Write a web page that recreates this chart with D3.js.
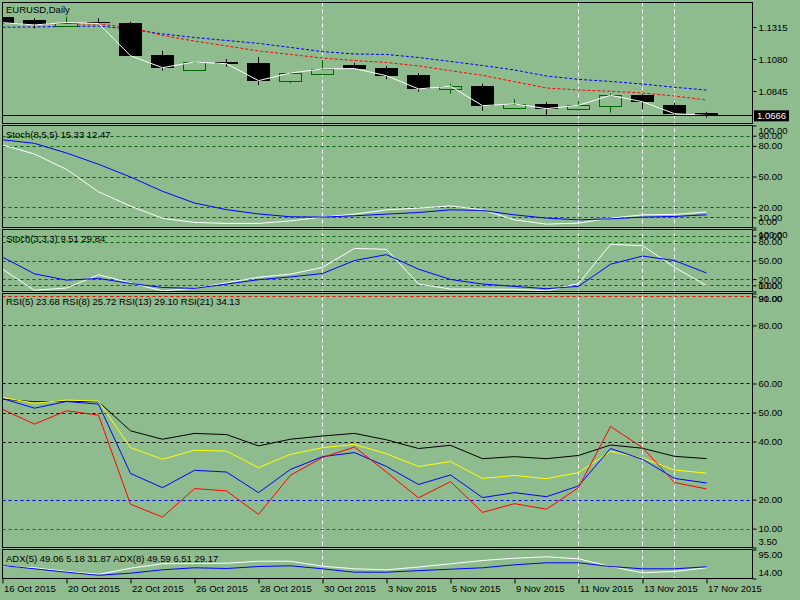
<!DOCTYPE html>
<html>
<head>
<meta charset="utf-8">
<script src="https://cdn.jsdelivr.net/npm/d3@7"></script>
<style>
  body { margin: 0; background: #8fbc8f; }
  text { font-family: "Liberation Sans", Arial, sans-serif; font-size: 9.5px; fill: #000; }
</style>
</head>
<body>
<svg id="chart" width="800" height="600"></svg>
<script>
// bars (daily)
var barDates = ["16 Oct 2015","19 Oct 2015","20 Oct 2015","21 Oct 2015","22 Oct 2015","23 Oct 2015",
  "26 Oct 2015","27 Oct 2015","28 Oct 2015","29 Oct 2015","30 Oct 2015","2 Nov 2015","3 Nov 2015",
  "4 Nov 2015","5 Nov 2015","6 Nov 2015","9 Nov 2015","10 Nov 2015","11 Nov 2015","12 Nov 2015",
  "13 Nov 2015","16 Nov 2015","17 Nov 2015"];
var xTickLabels = ["16 Oct 2015","20 Oct 2015","22 Oct 2015","26 Oct 2015","28 Oct 2015","30 Oct 2015",
  "3 Nov 2015","5 Nov 2015","9 Nov 2015","11 Nov 2015","13 Nov 2015","17 Nov 2015"];
var markerDates = ["30 Oct 2015","11 Nov 2015","13 Nov 2015","16 Nov 2015"];

var open  = [1.1391,1.1366,1.1325,1.1352,1.1344,1.1109,1.1001,1.1058,1.1053,1.0921,1.0972,1.1036,1.1012,1.0963,1.0862,1.0882,1.0722,1.0750,1.0715,1.0737,1.0816,1.0742,1.0683];
var high  = [1.1395,1.1379,1.1391,1.1379,1.1354,1.1141,1.1065,1.1080,1.1095,1.0985,1.1073,1.1053,1.1029,1.0975,1.0899,1.0899,1.0786,1.0764,1.0772,1.0828,1.0823,1.0759,1.0691];
var low   = [1.1345,1.1305,1.1325,1.1337,1.1102,1.0994,1.1001,1.1023,1.0889,1.0902,1.0972,1.1007,1.0931,1.0840,1.0825,1.0700,1.0713,1.0659,1.0700,1.0686,1.0708,1.0667,1.0649];
var close = [1.1347,1.1330,1.1348,1.1341,1.1104,1.1016,1.1058,1.1045,1.0921,1.0977,1.1007,1.1010,1.0957,1.0860,1.0880,1.0737,1.0750,1.0715,1.0740,1.0813,1.0766,1.0678,1.0666];
var maBlue = [1.1313,1.1315,1.1319,1.1322,1.1300,1.1264,1.1238,1.1216,1.1195,1.1165,1.1134,1.1117,1.1113,1.1091,1.1062,1.1032,1.0999,1.0955,1.0930,1.0915,1.0896,1.0872,1.0852];
var maRed  = [1.1342,1.1341,1.1337,1.1337,1.1311,1.1253,1.1212,1.1176,1.1139,1.1113,1.1087,1.1069,1.1054,1.1029,1.0994,1.0960,1.0913,1.0867,1.0852,1.0843,1.0830,1.0808,1.0779];
var priceTicks = [1.1315, 1.1080, 1.0845];
var bidPrice = 1.0666;

var stoch8Main   = [81,72,57,35,21,9,5,4,4,6.5,10.2,13.1,17.3,19,21.2,17.3,7.5,3.3,4.3,9.2,12.4,12.7,15.33];
var stoch8Signal = [86,82.5,73,62,49.5,35.5,24,17.5,13.3,10.5,10.2,11.5,13.1,14.7,17.3,16.7,12.4,9.2,7.5,8.5,10.2,10.8,12.47];
var stoch3Main   = [36,2,5.6,27,14,1,5,14,23,28,38.9,69.5,68,12,4,4,3.5,1,12.8,76,74,39,9.51];
var stoch3Signal = [55.5,28.5,18.3,21,13,6.5,5,12,19,23.5,29,50,59.5,36,19.4,12,8.3,4.5,8.3,44,57.2,50,29.84];
var stochLevels = [90, 80, 50, 20, 10];
var stochTicks = [100, 90, 80, 50, 20, 10, 0];

var rsi5  = [51.1,46,50.6,49.1,18.4,14,23.8,23,14.9,28.4,34.5,38.1,29.5,20.6,26.2,15.6,18.6,16.7,24.1,45.2,37.9,25.9,23.68];
var rsi8  = [54.8,51.5,53.8,52.9,29,24.1,30.1,29.5,22.4,30.4,34.8,36.2,31.4,25.2,28.5,20.7,22.4,21,24.7,37.6,33.9,27.3,25.72];
var rsi13 = [55.2,53.2,54.3,53.9,37.9,33.9,37,36.7,31,35.6,37.9,39,35.8,31.4,33.1,27.3,28.3,27.2,29.3,36.6,34.3,30.2,29.10];
var rsi21 = [54.6,53.7,53.9,53.7,43.7,40.8,42.8,42.4,38.5,40.8,41.9,42.8,40.6,37.6,38.7,34.1,34.8,34.1,35.2,38.8,37.7,34.9,34.13];
var rsiRedLevels = [90, 10];
var rsiBlueLevels = [80, 20];
var rsiBlackLevels = [60, 50, 40];
var rsiTicks = [91, 90, 80, 60, 50, 40, 20, 10, 3.5];

var adxWhite = [48.4,43.9,33.6,25.5,42.8,55.1,56,56.8,62.3,62.3,48.4,41.1,38.3,46,55.1,64.3,70.7,74.6,69,47.5,29.9,33.6,43.9];
var adxBlue  = [50.3,41.1,31.6,23,28.8,38.3,43.9,41.9,47.5,49.5,41.1,31.6,31.6,36,40,43.9,52.3,57.9,57.9,47.5,41.1,41.1,46.7];
var adxTicks = [95, 14];

var svg = d3.select("#chart");
var defs = svg.append("defs");
var left = 2.5, right = 752.5;
var x = d3.scaleLinear().domain([0, barDates.length - 1]).range([2.5, 2.5 + 32 * (barDates.length - 1)]);
var green = "#006400";

svg.append("rect").attr("width", 800).attr("height", 600).attr("fill", "#8fbc8f");

// vertical markers behind everything
svg.selectAll(".vmark").data(markerDates).enter().append("line")
  .attr("class", "vmark")
  .attr("x1", function (d) { return x(barDates.indexOf(d)); })
  .attr("x2", function (d) { return x(barDates.indexOf(d)); })
  .attr("y1", 2.5).attr("y2", 578.5)
  .attr("stroke", "#fff").attr("stroke-dasharray", "4,3");

function Panel(id, top, bottom, domain) {
  this.top = top;
  this.bottom = bottom;
  this.y = d3.scaleLinear().domain(domain).range([bottom, top]);
  defs.append("clipPath").attr("id", "clip_" + id)
    .append("rect").attr("x", left).attr("y", top).attr("width", right - left).attr("height", bottom - top);
  this.g = svg.append("g").attr("clip-path", "url(#clip_" + id + ")");
  var thisobj = this;

  this.Levels = function (vals, color) {
    thisobj.g.selectAll(null).data(vals).enter().append("line")
      .attr("x1", left).attr("x2", right)
      .attr("y1", function (d) { return Math.round(thisobj.y(d)) + 0.5; })
      .attr("y2", function (d) { return Math.round(thisobj.y(d)) + 0.5; })
      .attr("stroke", color).attr("stroke-dasharray", "3,3");
  };

  this.Series = function (vals, color, dash) {
    var line = d3.line().x(function (d, i) { return x(i); }).y(function (d) { return thisobj.y(d); });
    thisobj.g.append("path").datum(vals)
      .attr("d", line).attr("fill", "none")
      .attr("stroke", color).attr("stroke-width", 1)
      .attr("stroke-dasharray", dash || null);
  };

  this.Title = function (txt, base) {
    svg.append("text").attr("x", 6).attr("y", base).text(txt);
  };

  this.Axis = function (ticks, fmt) {
    var ax = svg.append("g").attr("transform", "translate(" + right + ",0)")
      .call(d3.axisRight(thisobj.y).tickValues(ticks).tickFormat(fmt).tickSize(4).tickPadding(2));
    ax.attr("font-family", null).attr("font-size", null);
    ax.select(".domain").remove();
    // keep the max / min labels inside the window like MT4 does
    ax.selectAll(".tick text").attr("y", function (d) {
      var yy = thisobj.y(d);
      if (yy < thisobj.top + 5) return thisobj.top + 5 - yy;
      if (yy > thisobj.bottom - 6) return thisobj.bottom - 6 - yy;
      return 0;
    });
  };

  this.Frame = function () {
    svg.append("rect").attr("x", left).attr("y", top)
      .attr("width", right - left).attr("height", bottom - top)
      .attr("fill", "none").attr("stroke", "#000");
  };
}

// ---- price window
var p1 = new Panel("price", 2.5, 123.5, [1.0606, 1.1495]);
p1.Series(maBlue, "#0000ff", "3,2");
p1.Series(maRed, "#ff0000", "3,2");

var idx = d3.range(barDates.length);
p1.g.selectAll(".wick").data(idx).enter().append("line")
  .attr("class", "wick")
  .attr("x1", function (i) { return x(i); }).attr("x2", function (i) { return x(i); })
  .attr("y1", function (i) { return p1.y(high[i]); }).attr("y2", function (i) { return p1.y(low[i]); })
  .attr("stroke", function (i) { return close[i] >= open[i] ? green : "#000"; });

p1.g.selectAll(".body").data(idx).enter().append("rect")
  .attr("class", "body")
  .each(function (i) {
    var up = close[i] >= open[i];
    var yt = Math.round(p1.y(Math.max(open[i], close[i])));
    var yb = Math.round(p1.y(Math.min(open[i], close[i])));
    var r = d3.select(this);
    if (up) {
      r.attr("x", x(i) - 11).attr("width", 22)
        .attr("y", yt + 0.5).attr("height", Math.max(1, yb - yt))
        .attr("fill", "#8fbc8f").attr("stroke", green);
    } else {
      r.attr("x", x(i) - 11.5).attr("width", 23)
        .attr("y", yt).attr("height", Math.max(1, yb - yt))
        .attr("fill", "#000");
    }
  });

p1.Series(close, "#fff");

p1.g.append("line").attr("x1", left).attr("x2", right)
  .attr("y1", Math.round(p1.y(bidPrice)) + 0.5).attr("y2", Math.round(p1.y(bidPrice)) + 0.5)
  .attr("stroke", "#000");
p1.Title("EURUSD,Daily", 12.5);
p1.Axis(priceTicks, d3.format(".4f"));
p1.Frame();
svg.append("rect").attr("x", 754).attr("y", p1.y(bidPrice) - 5).attr("width", 35).attr("height", 11).attr("fill", "#000");
svg.append("text").attr("x", 757).attr("y", p1.y(bidPrice) + 3.5).attr("fill", "#fff").style("fill", "#fff").text(d3.format(".4f")(bidPrice));

// ---- Stoch(8,5,5)
var p2 = new Panel("st8", 125.5, 227.5, [0, 100]);
p2.Levels(stochLevels, green);
p2.Series(stoch8Main, "#fff");
p2.Series(stoch8Signal, "#0000ff");
p2.Title("Stoch(8,5,5) " + stoch8Main[stoch8Main.length - 1].toFixed(2) + " " + stoch8Signal[stoch8Signal.length - 1].toFixed(2), 137.5);
p2.Axis(stochTicks, d3.format(".2f"));
p2.Frame();

// ---- Stoch(3,3,3)
var p3 = new Panel("st3", 229.5, 291.5, [0, 100]);
p3.Levels(stochLevels, green);
p3.Series(stoch3Main, "#fff");
p3.Series(stoch3Signal, "#0000ff");
p3.Title("Stoch(3,3,3) " + stoch3Main[stoch3Main.length - 1].toFixed(2) + " " + stoch3Signal[stoch3Signal.length - 1].toFixed(2), 241.5);
p3.Axis(stochTicks, d3.format(".2f"));
p3.Frame();

// ---- RSI
var p4 = new Panel("rsi", 293.5, 547.5, [3.5, 91]);
p4.Levels(rsiRedLevels, "#ff0000");
p4.Levels(rsiBlueLevels, "#0000ff");
p4.Levels(rsiBlackLevels, "#000");
p4.Series(rsi21, "#000");
p4.Series(rsi13, "#ffff00");
p4.Series(rsi8, "#0000ff");
p4.Series(rsi5, "#ff0000");
p4.Title("RSI(5) " + rsi5[22].toFixed(2) + " RSI(8) " + rsi8[22].toFixed(2) + " RSI(13) " + rsi13[22].toFixed(2) + " RSI(21) " + rsi21[22].toFixed(2), 305);
p4.Axis(rsiTicks, d3.format(".2f"));
p4.Frame();

// ---- ADX
var p5 = new Panel("adx", 549.5, 578.5, [14, 95]);
p5.Series(adxWhite, "#fff");
p5.Series(adxBlue, "#0000ff");
p5.Title("ADX(5) 49.06 5.18 31.87 ADX(8) 49.59 6.51 29.17", 562);
p5.Axis(adxTicks, d3.format(".2f"));
p5.Frame();

// ---- time axis
var xa = svg.append("g").attr("transform", "translate(0,578.5)")
  .call(d3.axisBottom(x)
    .tickValues(xTickLabels.map(function (d) { return barDates.indexOf(d); }))
    .tickFormat(function (i) { return barDates[i]; })
    .tickSize(5).tickPadding(2));
xa.attr("font-family", null).attr("font-size", null);
xa.select(".domain").remove();
xa.selectAll(".tick text").attr("text-anchor", "start").attr("x", 1);
</script>
</body>
</html>
